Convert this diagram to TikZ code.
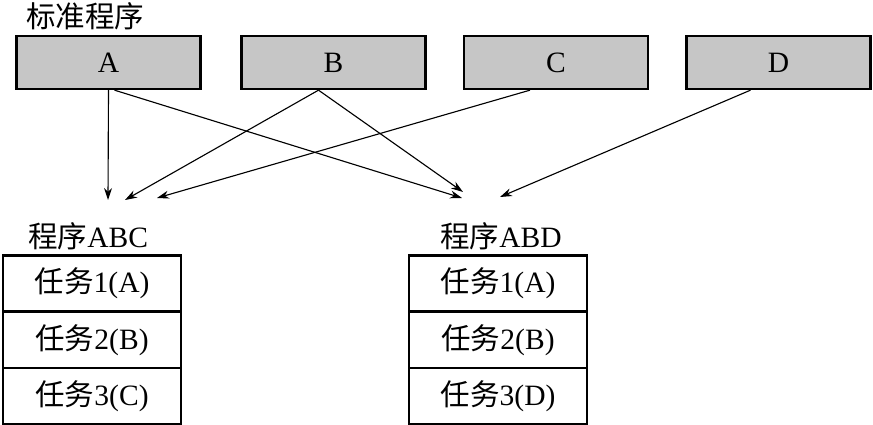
\documentclass[tikz,border=0pt]{standalone}
\usepackage{fontspec}
\setmainfont{Liberation Serif}
\newfontfamily\cjk{Noto Sans CJK SC}
\usetikzlibrary{calc, arrows.meta}

\begin{document}
\begin{tikzpicture}[x=0.025cm, y=-0.025cm,
  % Standard program blocks: grey fill
  progbox/.style={draw, line width=1.5pt, fill=gray!45, minimum width=4.6cm,
                  minimum height=1.33cm, inner sep=0pt, font=\fontsize{21}{24}\selectfont},
  % Task cells of the composed programs
  taskcell/.style={draw, line width=1.5pt, fill=white, minimum width=4.45cm,
                   minimum height=1.4cm, inner sep=0pt, font=\fontsize{21}{24}\selectfont},
  titletext/.style={anchor=west, inner sep=0pt, font=\fontsize{21}{24}\selectfont},
  link/.style={-{Stealth[length=3mm, width=2mm]}, line width=0.8pt}
]
  \useasboundingbox (0,0) rectangle (873,425);

  % Title
  \node[titletext] (stdtitle) at (26,16) {\cjk 标准程序};

  % Top row: standard programs
  \node[progbox] (progA) at (108.5,62.5) {A};
  \node[progbox] (progB) at (333.5,62.5) {B};
  \node[progbox] (progC) at (556,62.5) {C};
  \node[progbox] (progD) at (778.5,62.5) {D};

  % Composed program titles
  \node[titletext] (abctitle) at (28,236) {{\cjk 程序}ABC};
  \node[titletext] (abdtitle) at (440,236) {{\cjk 程序}ABD};

  % Left stack: program ABC
  \node[taskcell] (abc1) at (92,283.5) {{\cjk 任务}1(A)};
  \node[taskcell] (abc2) at (92,340)   {{\cjk 任务}2(B)};
  \node[taskcell] (abc3) at (92,396)   {{\cjk 任务}3(C)};

  % Right stack: program ABD
  \node[taskcell] (abd1) at (498,283.5) {{\cjk 任务}1(A)};
  \node[taskcell] (abd2) at (498,340)   {{\cjk 任务}2(B)};
  \node[taskcell] (abd3) at (498,396)   {{\cjk 任务}3(D)};

  % Arrow end points above the titles
  \coordinate (abcinA) at (108,200);
  \coordinate (abcinB) at (125,200);
  \coordinate (abcinC) at (157,198);
  \coordinate (abdinA) at (462,198);
  \coordinate (abdinB) at (463,192);
  \coordinate (abdinD) at (500,197);

  % Arrows into program ABC
  \draw[link] (progA.south) -- (abcinA);
  \draw[link] ($(progB.south)+(-15,0)$) -- (abcinB);
  \draw[link] ($(progC.south)+(-26,0)$) -- (abcinC);

  % Arrows into program ABD
  \draw[link] ($(progA.south)+(6,0)$) -- (abdinA);
  \draw[link] ($(progB.south)+(-15,0)$) -- (abdinB);
  \draw[link] ($(progD.south)+(-28,0)$) -- (abdinD);

\end{tikzpicture}
\end{document}
